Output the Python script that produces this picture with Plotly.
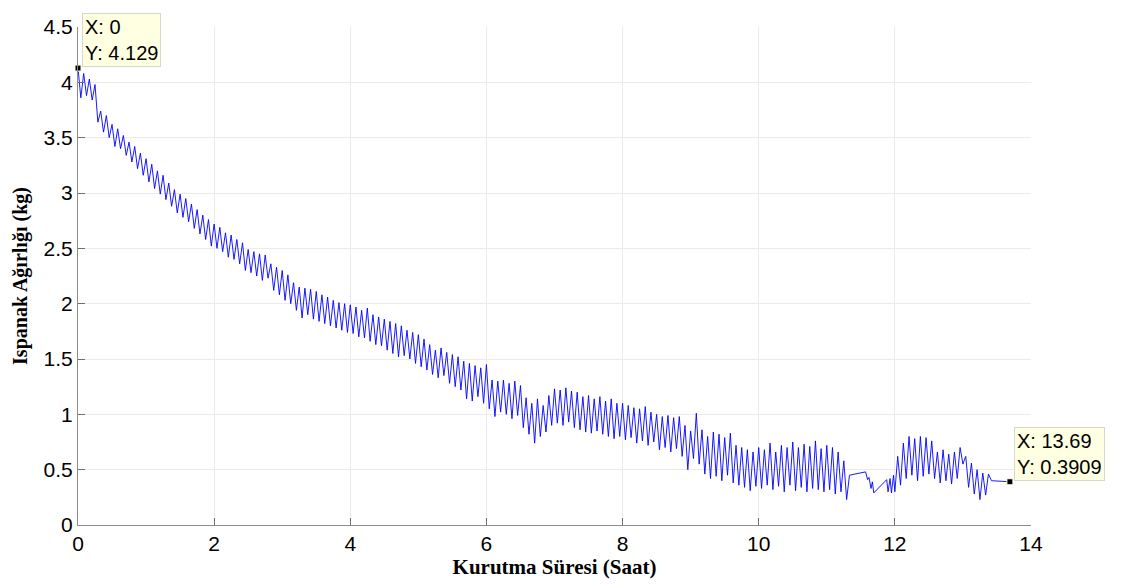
import plotly.graph_objects as go

# Sampling interval of the logged weight (hours)
DT = 1.0 / 24.0

# Dense segment 1: starts at t = 0 h, one value every DT
weights_seg1 = [
    # hour 0
    4.129, 3.86, 4.08, 3.88, 4.03, 3.84, 3.98, 3.64, 3.74, 3.55, 3.70, 3.50,
    3.62, 3.42, 3.58, 3.40, 3.52, 3.34, 3.46, 3.28, 3.42, 3.22, 3.36, 3.16,
    # hour 1
    3.31, 3.10, 3.26, 3.04, 3.20, 2.99, 3.16, 2.94, 3.09, 2.88, 3.03, 2.82,
    2.99, 2.78, 2.95, 2.74, 2.90, 2.68, 2.85, 2.63, 2.80, 2.58, 2.76, 2.52,
    # hour 2
    2.72, 2.50, 2.69, 2.47, 2.64, 2.42, 2.62, 2.40, 2.58, 2.36, 2.55, 2.30,
    2.49, 2.28, 2.47, 2.25, 2.45, 2.21, 2.44, 2.23, 2.36, 2.12, 2.33, 2.08,
    # hour 3
    2.30, 2.03, 2.26, 2.00, 2.19, 1.94, 2.15, 1.87, 2.14, 1.90, 2.13, 1.86,
    2.11, 1.84, 2.08, 1.82, 2.06, 1.80, 2.03, 1.78, 2.01, 1.76, 2.00, 1.74,
    # hour 4
    1.99, 1.73, 1.97, 1.70, 1.94, 1.69, 1.96, 1.66, 1.90, 1.63, 1.88, 1.62,
    1.86, 1.58, 1.84, 1.55, 1.82, 1.52, 1.80, 1.53, 1.76, 1.50, 1.74, 1.46,
    # hour 5
    1.72, 1.43, 1.68, 1.40, 1.63, 1.36, 1.58, 1.33, 1.60, 1.35, 1.56, 1.28,
    1.54, 1.25, 1.52, 1.22, 1.48, 1.14, 1.46, 1.12, 1.44, 1.16, 1.42, 1.10,
    # hour 6
    1.45, 1.05, 1.31, 0.98, 1.30, 1.02, 1.31, 1.00, 1.28, 0.96, 1.30, 0.99,
    1.26, 0.88, 1.15, 0.82, 1.10, 0.74, 1.14, 0.80, 1.08, 0.84, 1.17, 0.90,
    # hour 7
    1.23, 0.92, 1.22, 0.90, 1.24, 0.93, 1.21, 0.88, 1.20, 0.86, 1.16, 0.84,
    1.17, 0.83, 1.14, 0.85, 1.16, 0.82, 1.12, 0.80, 1.14, 0.78, 1.10, 0.80,
    # hour 8
    1.10, 0.77, 1.08, 0.79, 1.06, 0.74, 1.05, 0.76, 1.07, 0.72, 1.02, 0.75,
    1.00, 0.68, 0.98, 0.70, 0.99, 0.66, 0.97, 0.69, 0.98, 0.62, 0.90, 0.50,
    # hour 9
    0.85, 0.60, 1.01, 0.55, 0.86, 0.46, 0.80, 0.42, 0.84, 0.44, 0.82, 0.40,
    0.79, 0.45, 0.83, 0.38, 0.72, 0.36, 0.70, 0.34, 0.68, 0.31, 0.66, 0.35,
    # hour 10
    0.70, 0.33, 0.68, 0.36, 0.74, 0.32, 0.66, 0.35, 0.72, 0.30, 0.70, 0.36,
    0.75, 0.31, 0.70, 0.34, 0.73, 0.30, 0.71, 0.33, 0.76, 0.32, 0.69, 0.30,
    # hour 11 (until the logging gap)
    0.72, 0.32, 0.70, 0.28, 0.66, 0.30, 0.58, 0.23, 0.45,
]

# Sparse readings during the gap
gap_times = [11.57, 11.60, 11.62, 11.65, 11.67, 11.69, 11.88, 11.90, 11.93, 11.95, 11.98]
gap_weights = [0.48, 0.41, 0.43, 0.33, 0.39, 0.29, 0.41, 0.30, 0.42, 0.29, 0.45]

# Dense segment 2: starts at t = 12 h, one value every DT
SEG2_START = 12.0
weights_seg2 = [
    0.30, 0.62, 0.36, 0.74, 0.42, 0.80, 0.45, 0.78, 0.40, 0.80, 0.44, 0.79,
    0.46, 0.76, 0.42, 0.66, 0.38, 0.68, 0.40, 0.64, 0.37, 0.66, 0.42, 0.70,
    0.55, 0.62, 0.34, 0.56, 0.28, 0.50, 0.23, 0.47, 0.27, 0.46,
]

# Final readings
end_times = [13.42, 13.69]
end_weights = [0.40, 0.3909]

# Data tips
tip_x = [0, 13.69]
tip_y = [4.129, 0.3909]
tip_text = ["X: 0<br>Y: 4.129", "X: 13.69<br>Y: 0.3909"]

x_ticks = [0, 2, 4, 6, 8, 10, 12, 14]
y_ticks = [0, 0.5, 1, 1.5, 2, 2.5, 3, 3.5, 4, 4.5]
y_tick_labels = ["0", "0.5", "1", "1.5", "2", "2.5", "3", "3.5", "4", "4.5"]

# Assemble the time series
times = [i * DT for i in range(len(weights_seg1))]
weights = list(weights_seg1)
times += gap_times
weights += gap_weights
times += [SEG2_START + i * DT for i in range(len(weights_seg2))]
weights += weights_seg2
times += end_times
weights += end_weights

fig = go.Figure()
fig.add_trace(go.Scatter(
    x=times, y=weights, mode="lines",
    line=dict(color="#0000ff", width=0.9),
    showlegend=False, hoverinfo="skip",
))
fig.add_trace(go.Scatter(
    x=tip_x, y=tip_y, mode="markers",
    marker=dict(symbol="square", size=6, color="black",
                line=dict(color="#ffffe1", width=1)),
    showlegend=False, cliponaxis=False,
))

for tx, ty, tt in zip(tip_x, tip_y, tip_text):
    fig.add_annotation(
        x=tx, y=ty, xref="x", yref="y", text=tt, showarrow=False,
        xanchor="left", yanchor="bottom", xshift=4, yshift=1, align="left",
        bgcolor="#ffffe1", bordercolor="#d8d8c8", borderwidth=1, borderpad=2,
        font=dict(family="Liberation Sans, Arial, sans-serif", size=20, color="black"),
    )

axis_common = dict(
    showgrid=True, gridcolor="#ebebeb", gridwidth=1,
    zeroline=False, showline=True, linecolor="#8c8c8c", linewidth=1,
    ticks="inside", ticklen=7, tickcolor="#6e6e6e", tickwidth=1,
    tickfont=dict(family="Liberation Sans, Arial, sans-serif", size=21, color="black"),
    mirror=False, automargin=False,
)

# The page body adds an 8 px offset, so the figure is 8 px smaller than the window
fig.update_layout(
    width=1127, height=580,
    paper_bgcolor="white", plot_bgcolor="white",
    margin=dict(l=70, r=104, t=19, b=63),
    xaxis=dict(range=[0, 14], tickvals=x_ticks,
               title=dict(text="<b>Kurutma Süresi (Saat)</b>", standoff=4,
                          font=dict(family="Liberation Serif, Times New Roman, serif", size=21, color="black")),
               **axis_common),
    yaxis=dict(range=[0, 4.5], tickvals=y_ticks, ticktext=y_tick_labels,
               title=dict(text="<b>Ispanak Ağırlığı (kg)</b>", standoff=10,
                          font=dict(family="Liberation Serif, Times New Roman, serif", size=20, color="black")),
               **axis_common),
)

fig.write_html("out.html")
